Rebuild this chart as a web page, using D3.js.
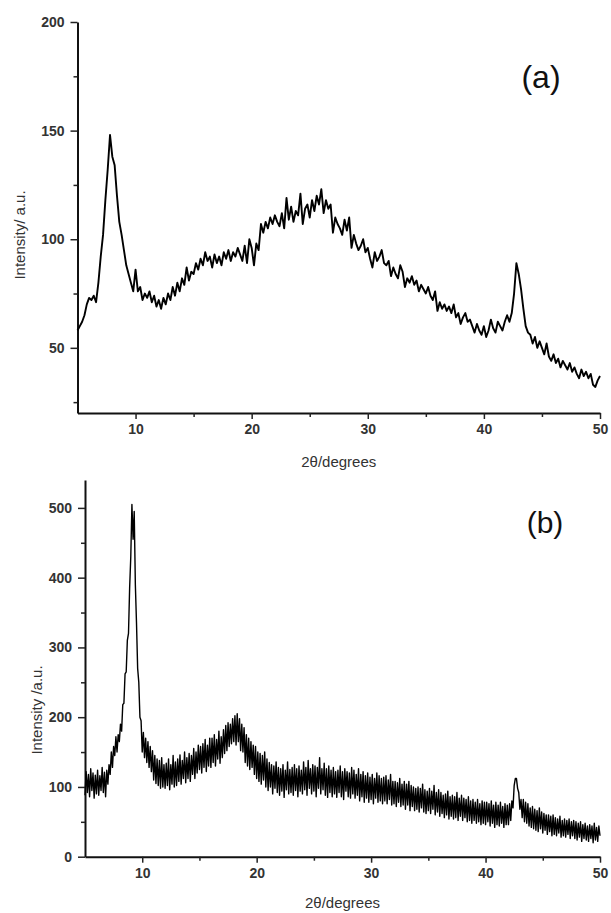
<!DOCTYPE html>
<html><head><meta charset="utf-8">
<script src="https://cdn.jsdelivr.net/npm/d3@7"></script>
<style>body{margin:0;background:#fff}</style>
</head><body>
<svg id="c" width="611" height="913"></svg>
<script>
// ---- data: panel (a), 2θ from 5 to 50 step 0.2 ----
const aStart = 5, aStep = 0.2;
const aIntensity = [
 58,60,62,65,70,
 73,72,74,71,80,
 92,102,118,132,148,
 138,134,120,108,102,
 95,88,84,80,76,
 86,76,78,72,75,
 73,76,71,74,69,
 72,68,73,70,75,
 72,78,74,80,76,
 82,79,87,81,85,
 84,89,86,91,88,
 94,90,92,87,93,
 89,92,88,94,91,
 95,90,94,92,96,
 93,90,97,89,100,
 96,88,98,95,107,
 103,108,105,110,107,
 111,108,106,112,105,
 119,109,115,108,113,
 111,121,107,114,116,
 110,118,113,120,116,
 123,112,118,114,116,
 103,110,107,105,102,
 109,104,110,96,102,
 98,95,97,100,94,
 96,91,87,94,90,
 92,95,89,88,90,
 83,87,84,82,88,
 85,78,82,80,83,
 79,81,76,79,77,
 75,78,74,72,76,
 67,71,68,70,67,
 69,66,70,64,66,
 61,64,66,62,63,
 60,57,61,58,56,
 60,55,58,63,59,
 57,62,60,58,62,
 65,62,66,75,89,
 84,77,68,60,57,
 56,52,55,50,53,
 50,47,52,46,44,
 47,43,45,41,44,
 42,40,43,39,41,
 38,36,40,37,39,
 36,38,33,32,35,
 37
];
// ---- data: panel (b), 2θ from 5 to 50 step 0.1 ----
const bStart = 5, bStep = 0.1;
const bIntensity = [
 88,122,92,118,86,126,95,120,84,117,
 90,124,88,116,95,128,92,121,86,124,
 104,132,118,150,128,158,145,172,150,175,
 165,190,180,218,220,262,265,310,320,385,
 430,505,455,495,390,335,270,250,200,195,
 150,178,142,170,135,165,128,158,122,152,
 110,145,105,140,102,138,98,142,100,132,
 98,134,102,140,96,132,104,145,100,136,
 102,140,108,146,104,138,112,150,106,142,
 112,148,108,145,118,155,112,150,120,160,
 125,158,120,162,128,168,122,160,130,170,
 128,170,135,175,130,168,140,180,134,172,
 142,182,148,188,152,192,158,190,162,198,
 165,202,160,205,165,198,152,190,150,185,
 135,175,130,170,125,165,128,160,118,158,
 112,150,108,148,104,145,110,150,100,140,
 95,135,100,132,90,130,98,136,92,128,
 88,126,94,132,85,124,96,136,90,125,
 92,128,88,132,95,126,86,130,94,124,
 90,136,96,128,88,138,98,126,90,132,
 94,130,86,128,98,142,90,126,96,134,
 88,126,85,130,92,124,86,128,90,122,
 85,124,92,130,86,122,82,126,94,122,
 86,120,84,128,90,124,84,118,88,126,
 80,118,86,122,78,116,84,120,78,114,
 82,118,76,112,84,120,78,116,80,112,
 76,114,80,116,76,110,82,118,74,108,
 76,108,72,106,78,112,72,104,74,108,
 68,104,74,108,66,102,72,100,66,98,
 68,100,64,98,70,104,64,96,62,94,
 66,98,62,94,68,102,60,92,64,96,
 58,92,62,88,56,90,60,94,54,86,
 58,88,54,86,56,92,52,84,58,88,
 52,84,56,82,50,86,52,80,48,82,
 52,78,48,82,50,76,46,80,48,78,
 46,78,50,76,44,80,48,74,42,78,
 46,74,44,78,48,72,42,76,46,74,
 46,76,52,80,70,102,112,112,98,92,
 68,82,56,82,50,78,48,76,44,70,
 42,72,40,68,38,66,36,70,40,64,
 34,62,38,60,32,60,36,58,30,60,
 32,56,30,54,34,58,28,52,30,54,
 28,52,32,54,26,50,30,52,26,50,
 24,48,28,50,22,46,26,48,24,44,
 22,46,26,44,20,48,24,42,22,44,
 30
];
const xTicks = [10,20,30,40,50];
const xMinor = [15,25,35,45];
const aYTicks = [50,100,150,200];
const aYMinor = [25,75,125,175];
const bYTicks = [0,100,200,300,400,500];
const bYMinor = [50,150,250,350,450];
const xTitle = "2θ/degrees";
const aYTitle = "Intensity/ a.u.";
const bYTitle = "Intensity /a.u.";

const svg = d3.select("#c");
const FONT = "Liberation Sans, Arial, sans-serif";

function panel(o){
  const g = svg.append("g");
  const x = d3.scaleLinear().domain([5,50]).range([o.left,o.right]);
  const y = d3.scaleLinear().domain(o.yDomain).range([o.bottom,o.top]);
  const data = o.values.map((v,i)=>({x:o.start+i*o.step, y:v}));
  g.append("g").attr("transform",`translate(0,${o.bottom})`)
    .call(d3.axisBottom(x).tickValues(xTicks).tickSize(6).tickSizeOuter(0).tickPadding(5));
  g.append("g").attr("transform",`translate(0,${o.bottom})`)
    .call(d3.axisBottom(x).tickValues(xMinor).tickSize(4).tickSizeOuter(0).tickFormat(""))
    .call(s=>s.select(".domain").remove());
  g.append("g").attr("transform",`translate(${o.left},0)`)
    .call(d3.axisLeft(y).tickValues(o.yTicks).tickSize(7).tickSizeOuter(0).tickPadding(6));
  g.append("g").attr("transform",`translate(${o.left},0)`)
    .call(d3.axisLeft(y).tickValues(o.yMinor).tickSize(4).tickSizeOuter(0).tickFormat(""))
    .call(s=>s.select(".domain").remove());
  g.selectAll(".domain").attr("stroke","#111").attr("stroke-width",2);
  g.selectAll(".tick line").attr("stroke","#222").attr("stroke-width",1.5);
  g.selectAll(".tick text").attr("font-family",FONT).attr("font-size",14)
    .attr("font-weight","bold").attr("fill","#333");
  g.append("path").datum(data)
    .attr("fill","none").attr("stroke","#000").attr("stroke-width",o.lw)
    .attr("stroke-linejoin","round")
    .attr("d",d3.line().x(d=>x(d.x)).y(d=>y(d.y)));
  g.append("text").attr("x",(o.left+o.right)/2).attr("y",o.xTitleY)
    .attr("text-anchor","middle").attr("font-family",FONT).attr("font-size",15)
    .attr("fill","#333").text(xTitle);
  g.append("text").attr("transform",`translate(${o.yTitleX},${o.yTitleY}) rotate(-90)`)
    .attr("text-anchor","middle").attr("font-family",FONT).attr("font-size",15)
    .attr("fill","#333").text(o.yTitle);
  g.append("text").attr("x",o.labelX).attr("y",o.labelY)
    .attr("text-anchor","middle").attr("font-family",FONT).attr("font-size",o.labelSize)
    .attr("fill","#111").text(o.label);
}

panel({left:77.5,right:600,top:22,bottom:413,yDomain:[20,200],
  values:aIntensity,start:aStart,step:aStep,yTicks:aYTicks,yMinor:aYMinor,
  lw:1.9,xTitleY:467,yTitleX:25,yTitleY:235,yTitle:aYTitle,label:"(a)",labelX:541,labelY:88,labelSize:32});
panel({left:85,right:600,top:480,bottom:856.7,yDomain:[0,540],
  values:bIntensity,start:bStart,step:bStep,yTicks:bYTicks,yMinor:bYMinor,
  lw:1.4,xTitleY:908,yTitleX:42,yTitleY:710,yTitle:bYTitle,label:"(b)",labelX:545,labelY:533,labelSize:30});
</script>
</body></html>
